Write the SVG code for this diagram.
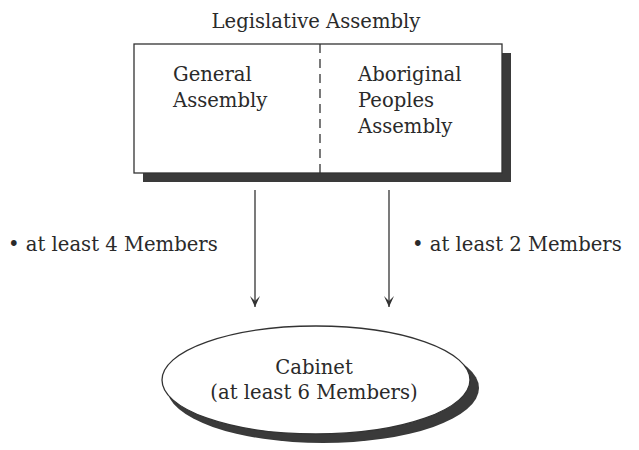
<svg xmlns="http://www.w3.org/2000/svg" width="639" height="450" viewBox="0 0 639 450">
<defs>
<style>
.t{font-family:"DejaVu Serif","Liberation Serif",serif;font-size:19.6px;fill:#2a2a2a}
.c{text-anchor:middle}
.ln{stroke:#333;stroke-width:1.3;fill:none}
</style>
<marker id="ah" markerWidth="12" markerHeight="10" refX="11" refY="5" orient="auto" markerUnits="userSpaceOnUse" viewBox="0 0 12 10">
<path d="M0,0 L11,5 L0,10 L5,5 Z" fill="#333"/>
</marker>
</defs>
<rect width="639" height="450" fill="#fff"/>
<text class="t c" x="316" y="28">Legislative Assembly</text>
<g id="legislative">
<rect x="143" y="53" width="368" height="129" fill="#3a3a3a"/>
<rect x="134" y="44" width="368" height="129" fill="#fff" stroke="#333" stroke-width="1.3"/>
<line x1="320" y1="44" x2="320" y2="173" stroke="#333" stroke-width="1.3" stroke-dasharray="9,6"/>
<text class="t" x="173" y="81">General</text>
<text class="t" x="173" y="107">Assembly</text>
<text class="t" x="358" y="81">Aboriginal</text>
<text class="t" x="358" y="107">Peoples</text>
<text class="t" x="358" y="133">Assembly</text>
</g>
<g id="connectors">
<line class="ln" x1="255" y1="190" x2="255" y2="307" marker-end="url(#ah)"/>
<line class="ln" x1="389" y1="190" x2="389" y2="307" marker-end="url(#ah)"/>
</g>
<text class="t" x="8" y="251">• at least 4 Members</text>
<text class="t" x="412" y="251">• at least 2 Members</text>
<g id="cabinet">
<ellipse cx="323" cy="388" rx="156" ry="55" fill="#3a3a3a"/>
<ellipse cx="316" cy="380" rx="154" ry="54" fill="#fff" stroke="#333" stroke-width="1.3"/>
<text class="t c" x="314" y="374">Cabinet</text>
<text class="t c" x="314" y="399">(at least 6 Members)</text>
</g>
</svg>
